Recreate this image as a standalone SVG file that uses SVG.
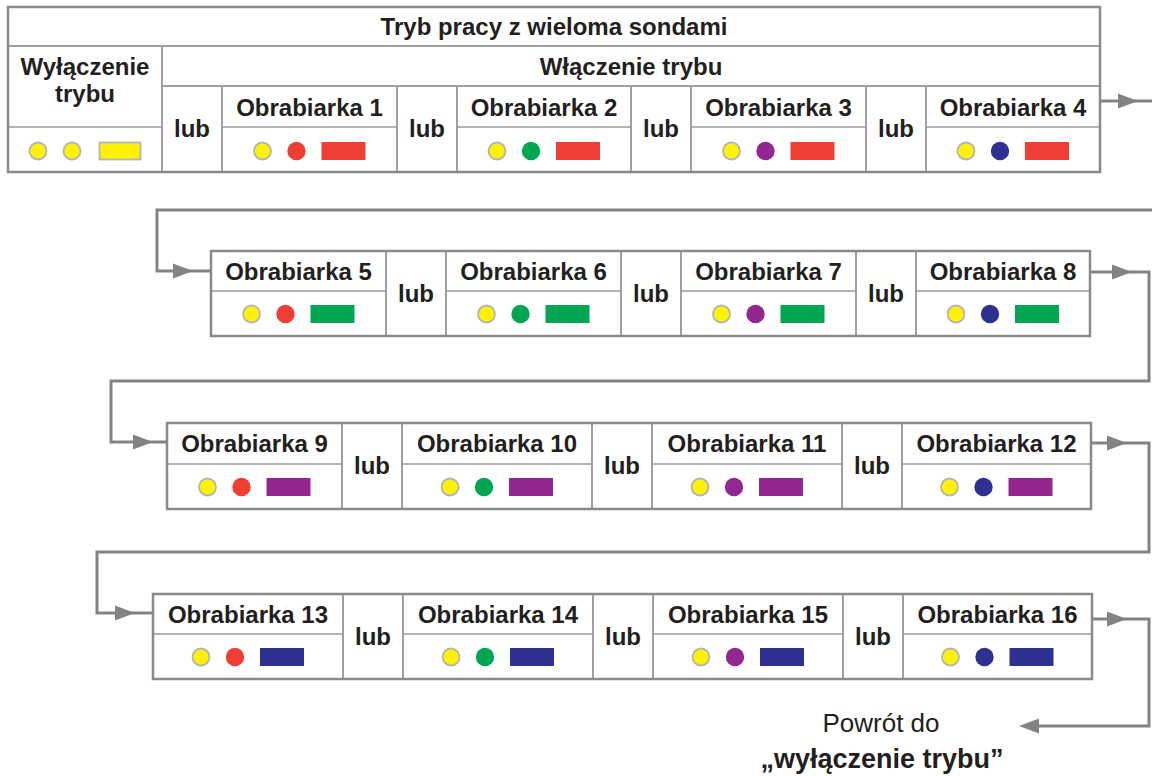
<svg xmlns="http://www.w3.org/2000/svg" xmlns:xlink="http://www.w3.org/1999/xlink" width="1152" height="776" viewBox="0 0 1152 776">
<style>
.t{font-family:"Liberation Sans",Arial,Helvetica,sans-serif;font-weight:bold;font-size:24px;fill:#231f20;text-anchor:middle}
.tr{font-family:"Liberation Sans",Arial,Helvetica,sans-serif;font-size:26px;fill:#231f20;text-anchor:middle}
.tb{font-family:"Liberation Sans",Arial,Helvetica,sans-serif;font-weight:bold;font-size:27px;fill:#231f20;text-anchor:middle}
.cell{fill:none;stroke:#9a9a9c;stroke-width:1.5}
.in{stroke:#9a9a9c;stroke-width:1.5}
.frame{fill:none;stroke:#8a8a8c;stroke-width:2.5}
.cy{fill:#fff200;stroke:#b5b5b5;stroke-width:1.8}
.cr{fill:#ef3e33}.cg{fill:#00a651}.cp{fill:#92278f}.cn{fill:#2e3192}
.yr{fill:#fff200;stroke:#b5b5b5;stroke-width:1.8}
.conn{fill:none;stroke:#838385;stroke-width:3}
.ah{fill:#838385}
</style>
<defs>
<path id="ar" d="M0,0 L-20,-7.5 L-20,7.5 Z"/>
</defs>
<rect width="1152" height="776" fill="#ffffff"/>

<!-- Top table -->
<g id="tryb-header">
<rect class="cell" x="8" y="7" width="1092" height="39"/>
<text class="t" x="554" y="35">Tryb pracy z wieloma sondami</text>
</g>
<g id="wylaczenie">
<rect class="cell" x="8" y="46" width="154" height="126"/>
<line class="in" x1="8" y1="127" x2="162" y2="127"/>
<text class="t" x="85" y="75">Wyłączenie</text>
<text class="t" x="85" y="102">trybu</text>
<circle class="cy" cx="38" cy="151" r="8.5"/>
<circle class="cy" cx="72" cy="151" r="8.5"/>
<rect class="yr" x="99.5" y="142.5" width="41" height="17"/>
</g>
<g id="wlaczenie-header">
<rect class="cell" x="162" y="46" width="938" height="40"/>
<text class="t" x="631" y="75">Włączenie trybu</text>
</g>
<g id="lub-1a"><rect class="cell" x="162" y="86" width="60" height="86"/><text class="t" x="192" y="137">lub</text></g>
<g id="m1">
<rect class="cell" x="222" y="86" width="175" height="86"/><line class="in" x1="222" y1="127" x2="397" y2="127"/>
<text class="t" x="309.5" y="116">Obrabiarka 1</text>
<circle class="cy" cx="262.5" cy="151" r="8.5"/><circle class="cr" cx="296.5" cy="151" r="9.2"/><rect class="cr" x="321.5" y="142" width="44" height="18"/>
</g>
<g id="lub-1b"><rect class="cell" x="397" y="86" width="60" height="86"/><text class="t" x="427" y="137">lub</text></g>
<g id="m2">
<rect class="cell" x="457" y="86" width="174" height="86"/><line class="in" x1="457" y1="127" x2="631" y2="127"/>
<text class="t" x="544" y="116">Obrabiarka 2</text>
<circle class="cy" cx="497" cy="151" r="8.5"/><circle class="cg" cx="531" cy="151" r="9.2"/><rect class="cr" x="556" y="142" width="44" height="18"/>
</g>
<g id="lub-1c"><rect class="cell" x="631" y="86" width="60" height="86"/><text class="t" x="661" y="137">lub</text></g>
<g id="m3">
<rect class="cell" x="691" y="86" width="175" height="86"/><line class="in" x1="691" y1="127" x2="866" y2="127"/>
<text class="t" x="778.5" y="116">Obrabiarka 3</text>
<circle class="cy" cx="731.5" cy="151" r="8.5"/><circle class="cp" cx="765.5" cy="151" r="9.2"/><rect class="cr" x="790.5" y="142" width="44" height="18"/>
</g>
<g id="lub-1d"><rect class="cell" x="866" y="86" width="60" height="86"/><text class="t" x="896" y="137">lub</text></g>
<g id="m4">
<rect class="cell" x="926" y="86" width="174" height="86"/><line class="in" x1="926" y1="127" x2="1100" y2="127"/>
<text class="t" x="1013" y="116">Obrabiarka 4</text>
<circle class="cy" cx="966" cy="151" r="8.5"/><circle class="cn" cx="1000" cy="151" r="9.2"/><rect class="cr" x="1025" y="142" width="44" height="18"/>
</g>
<rect class="frame" x="8" y="7" width="1092" height="165"/>

<!-- Row 2 -->
<g id="m5">
<rect class="cell" x="211" y="251" width="175" height="85"/><line class="in" x1="211" y1="291" x2="386" y2="291"/>
<text class="t" x="298.5" y="280">Obrabiarka 5</text>
<circle class="cy" cx="251.5" cy="314" r="8.5"/><circle class="cr" cx="285.5" cy="314" r="9.2"/><rect class="cg" x="310.5" y="305" width="44" height="18"/>
</g>
<g id="lub-2a"><rect class="cell" x="386" y="251" width="60" height="85"/><text class="t" x="416" y="302">lub</text></g>
<g id="m6">
<rect class="cell" x="446" y="251" width="175" height="85"/><line class="in" x1="446" y1="291" x2="621" y2="291"/>
<text class="t" x="533.5" y="280">Obrabiarka 6</text>
<circle class="cy" cx="486.5" cy="314" r="8.5"/><circle class="cg" cx="520.5" cy="314" r="9.2"/><rect class="cg" x="545.5" y="305" width="44" height="18"/>
</g>
<g id="lub-2b"><rect class="cell" x="621" y="251" width="60" height="85"/><text class="t" x="651" y="302">lub</text></g>
<g id="m7">
<rect class="cell" x="681" y="251" width="175" height="85"/><line class="in" x1="681" y1="291" x2="856" y2="291"/>
<text class="t" x="768.5" y="280">Obrabiarka 7</text>
<circle class="cy" cx="721.5" cy="314" r="8.5"/><circle class="cp" cx="755.5" cy="314" r="9.2"/><rect class="cg" x="780.5" y="305" width="44" height="18"/>
</g>
<g id="lub-2c"><rect class="cell" x="856" y="251" width="60" height="85"/><text class="t" x="886" y="302">lub</text></g>
<g id="m8">
<rect class="cell" x="916" y="251" width="174" height="85"/><line class="in" x1="916" y1="291" x2="1090" y2="291"/>
<text class="t" x="1003" y="280">Obrabiarka 8</text>
<circle class="cy" cx="956" cy="314" r="8.5"/><circle class="cn" cx="990" cy="314" r="9.2"/><rect class="cg" x="1015" y="305" width="44" height="18"/>
</g>
<rect class="frame" x="211" y="251" width="879" height="85"/>

<!-- Row 3 -->
<g id="m9">
<rect class="cell" x="167" y="423" width="175" height="86"/><line class="in" x1="167" y1="464" x2="342" y2="464"/>
<text class="t" x="254.5" y="452">Obrabiarka 9</text>
<circle class="cy" cx="207.5" cy="487" r="8.5"/><circle class="cr" cx="241.5" cy="487" r="9.2"/><rect class="cp" x="266.5" y="478" width="44" height="18"/>
</g>
<g id="lub-3a"><rect class="cell" x="342" y="423" width="60" height="86"/><text class="t" x="372" y="474">lub</text></g>
<g id="m10">
<rect class="cell" x="402" y="423" width="190" height="86"/><line class="in" x1="402" y1="464" x2="592" y2="464"/>
<text class="t" x="497" y="452">Obrabiarka 10</text>
<circle class="cy" cx="450" cy="487" r="8.5"/><circle class="cg" cx="484" cy="487" r="9.2"/><rect class="cp" x="509" y="478" width="44" height="18"/>
</g>
<g id="lub-3b"><rect class="cell" x="592" y="423" width="60" height="86"/><text class="t" x="622" y="474">lub</text></g>
<g id="m11">
<rect class="cell" x="652" y="423" width="190" height="86"/><line class="in" x1="652" y1="464" x2="842" y2="464"/>
<text class="t" x="747" y="452">Obrabiarka 11</text>
<circle class="cy" cx="700" cy="487" r="8.5"/><circle class="cp" cx="734" cy="487" r="9.2"/><rect class="cp" x="759" y="478" width="44" height="18"/>
</g>
<g id="lub-3c"><rect class="cell" x="842" y="423" width="60" height="86"/><text class="t" x="872" y="474">lub</text></g>
<g id="m12">
<rect class="cell" x="902" y="423" width="189" height="86"/><line class="in" x1="902" y1="464" x2="1091" y2="464"/>
<text class="t" x="996.5" y="452">Obrabiarka 12</text>
<circle class="cy" cx="949.5" cy="487" r="8.5"/><circle class="cn" cx="983.5" cy="487" r="9.2"/><rect class="cp" x="1008.5" y="478" width="44" height="18"/>
</g>
<rect class="frame" x="167" y="423" width="924" height="86"/>

<!-- Row 4 -->
<g id="m13">
<rect class="cell" x="153" y="594" width="190" height="85"/><line class="in" x1="153" y1="634" x2="343" y2="634"/>
<text class="t" x="248" y="623">Obrabiarka 13</text>
<circle class="cy" cx="201" cy="657" r="8.5"/><circle class="cr" cx="235" cy="657" r="9.2"/><rect class="cn" x="260" y="648" width="44" height="18"/>
</g>
<g id="lub-4a"><rect class="cell" x="343" y="594" width="60" height="85"/><text class="t" x="373" y="645">lub</text></g>
<g id="m14">
<rect class="cell" x="403" y="594" width="190" height="85"/><line class="in" x1="403" y1="634" x2="593" y2="634"/>
<text class="t" x="498" y="623">Obrabiarka 14</text>
<circle class="cy" cx="451" cy="657" r="8.5"/><circle class="cg" cx="485" cy="657" r="9.2"/><rect class="cn" x="510" y="648" width="44" height="18"/>
</g>
<g id="lub-4b"><rect class="cell" x="593" y="594" width="60" height="85"/><text class="t" x="623" y="645">lub</text></g>
<g id="m15">
<rect class="cell" x="653" y="594" width="190" height="85"/><line class="in" x1="653" y1="634" x2="843" y2="634"/>
<text class="t" x="748" y="623">Obrabiarka 15</text>
<circle class="cy" cx="701" cy="657" r="8.5"/><circle class="cp" cx="735" cy="657" r="9.2"/><rect class="cn" x="760" y="648" width="44" height="18"/>
</g>
<g id="lub-4c"><rect class="cell" x="843" y="594" width="60" height="85"/><text class="t" x="873" y="645">lub</text></g>
<g id="m16">
<rect class="cell" x="903" y="594" width="189" height="85"/><line class="in" x1="903" y1="634" x2="1092" y2="634"/>
<text class="t" x="997.5" y="623">Obrabiarka 16</text>
<circle class="cy" cx="950.5" cy="657" r="8.5"/><circle class="cn" cx="984.5" cy="657" r="9.2"/><rect class="cn" x="1009.5" y="648" width="44" height="18"/>
</g>
<rect class="frame" x="153" y="594" width="939" height="85"/>

<!-- Return label -->
<g id="return-label">
<text class="tr" x="881" y="732">Powrót do</text>
<text class="tb" x="882" y="768">„wyłączenie trybu”</text>
</g>

<!-- Connectors -->
<g id="connectors">
<path class="conn" d="M1100,101 H1152"/>
<use xlink:href="#ar" class="ah" transform="translate(1138,101)"/>
<path class="conn" d="M1152,210 H157 V271 H211"/>
<use xlink:href="#ar" class="ah" transform="translate(193,271)"/>
<path class="conn" d="M1090,272 H1149 V381 H111 V442 H167"/>
<use xlink:href="#ar" class="ah" transform="translate(1132,272)"/>
<use xlink:href="#ar" class="ah" transform="translate(153,442)"/>
<path class="conn" d="M1091,443 H1149 V552 H97 V613 H153"/>
<use xlink:href="#ar" class="ah" transform="translate(1127,443)"/>
<use xlink:href="#ar" class="ah" transform="translate(135,613)"/>
<path class="conn" d="M1092,619 H1149 V726 H1024"/>
<use xlink:href="#ar" class="ah" transform="translate(1127,619)"/>
<use xlink:href="#ar" class="ah" transform="translate(1019,726) rotate(180)"/>
</g>
</svg>
